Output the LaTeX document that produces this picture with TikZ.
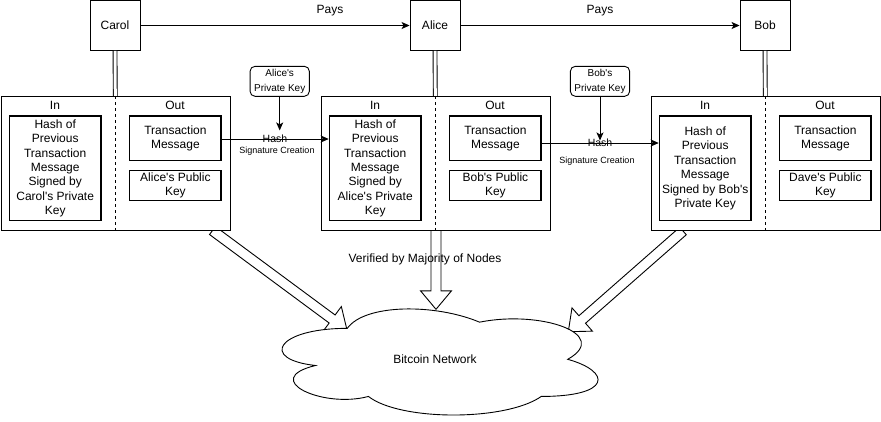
\documentclass[tikz,border=0pt]{standalone}
\usepackage{fontspec}
\setmainfont{Liberation Sans}[Ligatures=TeXOff]
\usetikzlibrary{calc,arrows.meta}
\tikzset{
  every node/.style={font=\fontsize{12}{14.4}\selectfont, inner sep=0pt, align=center},
  ln/.style={line width=0.9pt, draw=black},
  person/.style={ln, fill=white, minimum width=50pt, minimum height=50pt},
  txbox/.style={ln, fill=white, minimum width=229pt, minimum height=133.3pt},
  inbox/.style={draw=black, line width=1.3pt, minimum width=91.7pt, minimum height=104.7pt},
  msgbox/.style={draw=black, line width=1.3pt, minimum width=91.3pt, minimum height=44.3pt},
  keybox/.style={draw=black, line width=1.3pt, minimum width=91.3pt, minimum height=30pt},
  pkbox/.style={ln, rounded corners=5pt, minimum width=59.3pt, minimum height=30pt,
     font=\fontsize{10}{15}\selectfont},
  arr/.style={line width=0.9pt, -{Stealth[length=8pt,width=7pt,inset=2pt]}},
  link/.style={double=white, draw=black, line width=0.9pt, double distance=3pt},
  flex/.style={line width=0.9pt, draw=black, line join=miter},
  small/.style={font=\fontsize{9}{10}\selectfont},
  hashlbl/.style={font=\fontsize{10.5}{12}\selectfont},
}
\newcommand\txn[4]{%
  \node[txbox] (tx#1) at (#2,163.3) {};
  \draw[ln, dash pattern=on 3pt off 3pt] (tx#1.north) -- (tx#1.south);
  \node (inl#1) at ({#2-60.5},105.7) {In};
  \node (outl#1) at ({#2+59.5},105.7) {Out};
  \node[inbox] (in#1) at ({#2-60.3},168.3) {#3};
  \node[msgbox] (msg#1) at ({#2+59.9},138.2) {Transaction\\Message};
  \node[keybox] (key#1) at ({#2+59.9},185.3) {#4};
}
\newcommand\flexarrow[3]{%
  \coordinate (hb#3) at ($(#2)!18.5pt!(#1)$);
  \draw[flex] ($(#1)!5pt!90:(#2)$) -- ($(hb#3)!5pt!-90:(#1)$) -- ($(hb#3)!15.5pt!-90:(#1)$)
     -- (#2) -- ($(hb#3)!15.5pt!90:(#1)$) -- ($(hb#3)!5pt!90:(#1)$) -- ($(#1)!5pt!-90:(#2)$) -- cycle;
}
\begin{document}
\begin{tikzpicture}[x=1pt,y=-1pt]
\useasboundingbox (0,0) rectangle (881,421);
\fill[white] (0,0) rectangle (881,421);

% label behind middle arrow
\node (verified) at (425,259.3) {Verified by Majority of Nodes};

% flex arrows (drawn first, boxes and cloud cover their ends)
\coordinate (s1) at (212.5,230.5);
\coordinate (t1) at (347,330);
\coordinate (s2) at (436,230);
\coordinate (t2) at (436,309.3);
\coordinate (s3) at (683,231);
\coordinate (t3) at (568.3,331.7);
\flexarrow{s1}{t1}{a}
\flexarrow{s2}{t2}{b}
\flexarrow{s3}{t3}{c}

% cloud
\begin{scope}[shift={(259.1,297.4)}, x=352.7pt, y=-123.8pt]
\draw[ln, fill=white] (0.25,0.25)
  .. controls (0.05,0.25) and (0,0.5) .. (0.16,0.55)
  .. controls (0,0.66) and (0.18,0.9) .. (0.31,0.8)
  .. controls (0.4,1) and (0.7,1) .. (0.8,0.8)
  .. controls (1,0.8) and (1,0.6) .. (0.875,0.5)
  .. controls (1,0.3) and (0.8,0.1) .. (0.625,0.2)
  .. controls (0.5,0.05) and (0.3,0.05) .. (0.25,0.25) -- cycle;
\end{scope}
\node (cloud) at (435,359) {Bitcoin Network};

% people
\node[person] (carol) at (115,25.5) {Carol};
\node[person] (alice) at (435,25.5) {Alice};
\node[person] (bob) at (765,25.5) {Bob};

% links people -> transactions
\draw[link] (carol.south) -- (115.3,96.7);
\draw[link] (alice.south) -- (435.3,96.7);
\draw[link] (bob.south) -- (765.3,96.7);

% transactions
\txn{1}{115.5}{Hash of\\Previous\\Transaction\\Message\\Signed by\\Carol's Private\\Key}{Alice's Public\\Key}
\txn{2}{435.5}{Hash of\\Previous\\Transaction\\Message\\Signed by\\Alice's Private\\Key}{Bob's Public\\Key}
\txn{3}{765.5}{Hash of\\Previous\\Transaction\\Message\\Signed by Bob's\\Private Key}{Dave's Public\\Key}

% pays
\draw[arr] (carol) -- (alice);
\draw[arr] (alice) -- (bob);
\node (pays1) at (330,10.5) {Pays};
\node (pays2) at (600,10.5) {Pays};

% private keys
\node[pkbox] (pk1) at (279.7,81.3) {Alice's\\Private Key};
\node[pkbox] (pk2) at (600,81.3) {Bob's\\Private Key};

% hash edges
\coordinate (h1s) at ($(msg1.east)+(0,0.8)$);
\draw[arr] (h1s) -- (h1s -| in2.west);
\node[hashlbl] (hash1) at (275,139) {Hash};
\node[small] (sig1) at (277,151) {Signature Creation};
\coordinate (h2s) at ($(msg2.east)+(0,4.8)$);
\draw[arr] (h2s) -- (h2s -| in3.west);
\node[hashlbl] (hash2) at (600,143) {Hash};
\node[small] (sig2) at (597,161) {Signature Creation};

\coordinate (pk1t) at ($(pk1.south)+(0,33.7)$);
\coordinate (pk2t) at ($(pk2.south)+(0,43.7)$);
\draw[arr] (pk1.south) -- (pk1t);
\draw[arr] (pk2.south) -- (pk2t);
\end{tikzpicture}
\end{document}
